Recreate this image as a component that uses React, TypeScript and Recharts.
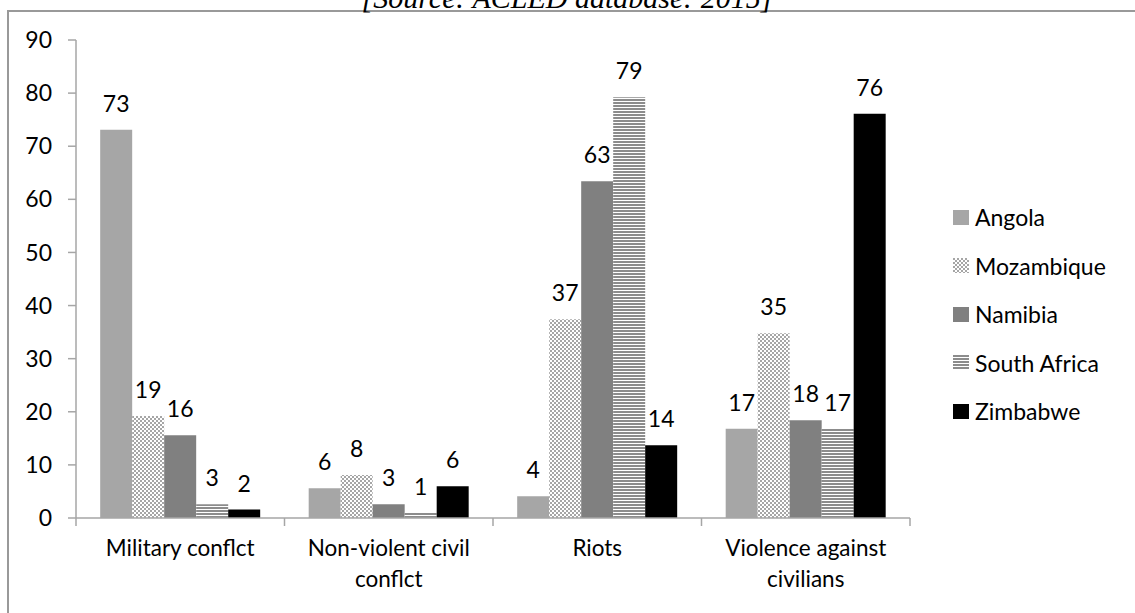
import React from "react";
import { BarChart, Bar, XAxis, YAxis, Legend, LabelList } from "recharts";

const categories = [
  "Military conflct",
  "Non-violent civil conflct",
  "Riots",
  "Violence against civilians",
];
const xTickLines = [
  ["Military conflct"],
  ["Non-violent civil", "conflct"],
  ["Riots"],
  ["Violence against", "civilians"],
];
const yTicks = [0, 10, 20, 30, 40, 50, 60, 70, 80, 90];

const angola = [73.1, 5.6, 4.1, 16.8];
const mozambique = [19.2, 8.1, 37.4, 34.8];
const namibia = [15.6, 2.6, 63.4, 18.4];
const southAfrica = [2.6, 1.0, 79.2, 16.8];
const zimbabwe = [1.6, 6.0, 13.7, 76.1];

const title = "[Source: ACLED database: 2015]";

const data = categories.map((c, i) => ({
  category: c,
  Angola: angola[i],
  Mozambique: mozambique[i],
  Namibia: namibia[i],
  "South Africa": southAfrica[i],
  Zimbabwe: zimbabwe[i],
}));

const FONT = "Lato, 'Open Sans', sans-serif";
const AXIS = "#a6a6a6";
const FS = 23;

function XTick(props: any) {
  const { x, y, payload, index } = props;
  const half = payload && typeof payload.offset === "number" ? payload.offset : 0;
  const lines = xTickLines[index] ?? [String(payload.value)];
  const isLast = index === categories.length - 1;
  return (
    <g>
      <line x1={x - half} x2={x - half} y1={y} y2={y + 8} stroke={AXIS} strokeWidth={1.5} />
      {isLast && (
        <line x1={x + half} x2={x + half} y1={y} y2={y + 8} stroke={AXIS} strokeWidth={1.5} />
      )}
      <text x={x} y={y + 38} textAnchor="middle" fontFamily={FONT} fontSize={22.5} fill="#000">
        {lines.map((l: string, i: number) => (
          <tspan key={i} x={x} dy={i === 0 ? 0 : 31}>
            {l}
          </tspan>
        ))}
      </text>
    </g>
  );
}

function LegendContent(props: any) {
  const { payload } = props;
  return (
    <div style={{ fontFamily: FONT, fontSize: FS, color: "#000" }}>
      {(payload || []).map((p: any) => (
        <div key={p.value} style={{ display: "flex", alignItems: "center", height: 48.5 }}>
          <svg width={16} height={15} style={{ marginRight: 6, display: "block" }}>
            <rect width={16} height={15} fill={p.color} />
          </svg>
          <span>{p.value}</span>
        </div>
      ))}
    </div>
  );
}

const labelProps = {
  position: "top" as const,
  offset: 18,
  fill: "#000",
  fontSize: FS,
  fontFamily: FONT,
  formatter: (v: any) => Math.round(Number(v)),
};

export default function App() {
  return (
    <div
      style={{
        position: "absolute",
        left: 0,
        top: 0,
        width: 1135,
        height: 613,
        overflow: "hidden",
        background: "#fff",
      }}
    >
      <div
        style={{
          position: "absolute",
          left: 7,
          top: 10,
          width: 1200,
          height: 700,
          borderLeft: "2px solid #999",
          borderTop: "2px solid #999",
        }}
      />
      <svg width={1135} height={30} style={{ position: "absolute", left: 0, top: 0 }}>
        <text
          x={567}
          y={8}
          textAnchor="middle"
          fontFamily="'Liberation Serif', 'Times New Roman', serif"
          fontStyle="italic"
          fontSize={30}
          fill="#000"
        >
          {title}
        </text>
      </svg>
      <div style={{ position: "absolute", left: 0, top: 0 }}>
        <BarChart
          width={1135}
          height={613}
          data={data}
          margin={{ top: 40, right: 225, bottom: 0, left: 0 }}
          barCategoryGap="11.6%"
          barGap={0}
        >
          <defs>
            <pattern id="checker" width={4} height={4} patternUnits="userSpaceOnUse">
              <rect width={4} height={4} fill="#fff" />
              <rect x={0} y={0} width={2} height={2} fill="#a6a6a6" />
              <rect x={2} y={2} width={2} height={2} fill="#a6a6a6" />
            </pattern>
            <pattern id="hstripes" width={4} height={3} patternUnits="userSpaceOnUse">
              <rect width={4} height={3} fill="#fff" />
              <rect x={0} y={0} width={4} height={2} fill="#8c8c8c" />
            </pattern>
          </defs>
          <XAxis
            dataKey="category"
            height={95}
            tickSize={0}
            tickMargin={0}
            tickLine={false}
            axisLine={{ stroke: AXIS, strokeWidth: 1.5 }}
            tick={<XTick />}
            interval={0}
          />
          <YAxis
            domain={[0, 90]}
            ticks={yTicks}
            width={76}
            tickSize={8}
            tickMargin={16}
            interval={0}
            axisLine={{ stroke: AXIS, strokeWidth: 1.5 }}
            tickLine={{ stroke: AXIS, strokeWidth: 1.5 }}
            tick={{ fill: "#000", fontSize: FS, fontFamily: FONT }}
          />
          <Legend
            layout="vertical"
            align="center"
            verticalAlign="middle"
            content={<LegendContent />}
            wrapperStyle={{ position: "absolute", left: 953, top: 193, width: "auto", height: "auto" }}
          />
          <Bar dataKey="Angola" fill="#a6a6a6" isAnimationActive={false}>
            <LabelList dataKey="Angola" {...labelProps} />
          </Bar>
          <Bar dataKey="Mozambique" fill="url(#checker)" isAnimationActive={false}>
            <LabelList dataKey="Mozambique" {...labelProps} />
          </Bar>
          <Bar dataKey="Namibia" fill="#808080" isAnimationActive={false}>
            <LabelList dataKey="Namibia" {...labelProps} />
          </Bar>
          <Bar dataKey="South Africa" fill="url(#hstripes)" isAnimationActive={false}>
            <LabelList dataKey="South Africa" {...labelProps} />
          </Bar>
          <Bar dataKey="Zimbabwe" fill="#000" isAnimationActive={false}>
            <LabelList dataKey="Zimbabwe" {...labelProps} />
          </Bar>
        </BarChart>
      </div>
    </div>
  );
}
